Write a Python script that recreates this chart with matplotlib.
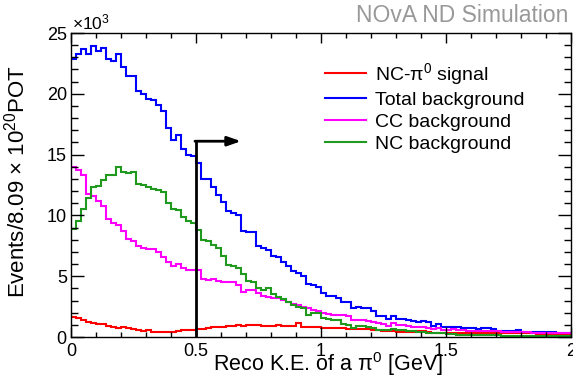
import matplotlib
matplotlib.use("Agg")
import matplotlib.pyplot as plt
import numpy as np

plt.rcParams['font.family'] = ['Liberation Sans', 'DejaVu Sans']
plt.rcParams['mathtext.fontset'] = 'custom'
plt.rcParams['mathtext.rm'] = 'Liberation Sans'
plt.rcParams['mathtext.it'] = 'Liberation Sans:italic'

# Histogram binning: 100 bins from 0 to 2 GeV
bin_edges = np.linspace(0.0, 2.0, 101)

# Values in units of 10^3 events
signal = [1.64, 1.56, 1.42, 1.26, 1.15, 1.04, 1.04, 0.93, 0.82, 0.71,
          0.79, 0.74, 0.66, 0.55, 0.52, 0.55, 0.44, 0.38, 0.44, 0.45,
          0.45, 0.50, 0.55, 0.55, 0.60, 0.62, 0.66, 0.75, 0.80, 0.85,
          0.85, 0.90, 0.90, 0.95, 0.90, 0.95, 1.00, 0.95, 0.90, 0.93,
          0.90, 0.95, 0.90, 0.90, 0.88, 1.12, 0.85, 0.80, 0.80, 0.80,
          0.78, 0.72, 0.72, 0.70, 0.70, 0.68, 0.65, 0.65, 0.63, 0.63,
          0.60, 0.55, 0.47, 0.50, 0.50, 0.44, 0.44, 0.44, 0.44, 0.47,
          0.52, 0.38, 0.35, 0.35, 0.33, 0.33, 0.33, 0.32, 0.32, 0.33,
          0.33, 0.33, 0.33, 0.33, 0.33, 0.33, 0.30, 0.30, 0.30, 0.30,
          0.30, 0.30, 0.30, 0.22, 0.22, 0.22, 0.22, 0.22, 0.22, 0.22]

total_bkg = [22.85, 23.3, 23.7, 23.3, 23.9, 23.5, 23.8, 22.9, 22.7, 23.3,
             22.2, 21.5, 21.5, 20.2, 20.0, 19.6, 19.5, 19.1, 18.6, 17.2,
             16.2, 16.6, 15.5, 15.0, 14.9, 14.3, 13.0, 13.0, 12.3, 11.7,
             11.1, 10.4, 10.2, 10.0, 8.7, 8.6, 8.6, 7.5, 7.3, 7.15,
             6.65, 6.55, 6.2, 5.85, 5.45, 5.25, 5.05, 4.35, 4.3, 4.15,
             3.6, 3.4, 3.35, 3.2, 2.9, 2.85, 2.35, 2.5, 2.4, 2.35,
             2.17, 1.73, 1.73, 1.45, 1.73, 1.48, 1.48, 1.4, 1.35, 1.26,
             1.3, 1.2, 0.9, 1.07, 0.8, 0.8, 0.85, 0.8, 0.73, 0.72,
             0.70, 0.68, 0.70, 0.70, 0.68, 0.52, 0.52, 0.52, 0.52, 0.58,
             0.38, 0.38, 0.45, 0.38, 0.38, 0.38, 0.40, 0.30, 0.30, 0.30]

cc_bkg = [14.0, 13.75, 13.3, 11.75, 11.6, 11.15, 10.8, 9.7, 9.4, 9.2,
          8.7, 8.05, 7.9, 7.5, 7.3, 7.2, 7.25, 6.95, 6.6, 6.2,
          5.8, 6.0, 5.65, 5.55, 5.55, 5.5, 4.8, 4.7, 4.75, 4.6,
          4.55, 4.55, 4.5, 4.3, 3.7, 3.9, 3.85, 3.6, 3.4, 3.25,
          3.2, 3.2, 3.05, 2.9, 2.7, 2.6, 2.5, 2.35, 2.2, 2.1,
          2.0, 1.9, 1.8, 1.8, 1.85, 1.7, 1.4, 1.4, 1.4, 1.35,
          1.26, 1.12, 1.07, 0.9, 1.12, 1.0, 0.97, 0.9, 0.85, 0.8,
          0.8, 0.75, 0.63, 0.7, 0.6, 0.6, 0.63, 0.6, 0.55, 0.5,
          0.5, 0.5, 0.5, 0.5, 0.5, 0.5, 0.38, 0.38, 0.38, 0.38,
          0.38, 0.38, 0.3, 0.3, 0.3, 0.3, 0.3, 0.3, 0.3, 0.3]

nc_bkg = [8.9, 9.5, 10.5, 11.4, 12.3, 12.4, 12.9, 13.3, 13.3, 14.0,
          13.6, 13.5, 13.6, 12.6, 12.5, 12.3, 12.2, 12.05, 11.9, 11.0,
          10.5, 10.45, 9.9, 9.5, 9.35, 8.8, 8.0, 7.9, 7.6, 7.3,
          6.7, 5.9, 5.8, 5.65, 5.2, 4.6, 4.55, 4.0, 3.9, 4.0,
          3.5, 3.3, 3.1, 2.85, 2.6, 2.5, 2.35, 1.8, 1.95, 1.95,
          1.6, 1.45, 1.4, 1.4, 1.07, 1.0, 0.72, 0.9, 0.9, 0.8,
          0.75, 0.6, 0.6, 0.55, 0.63, 0.55, 0.55, 0.47, 0.47, 0.42,
          0.42, 0.33, 0.33, 0.3, 0.3, 0.25, 0.25, 0.2, 0.2, 0.15,
          0.15, 0.15, 0.15, 0.15, 0.15, 0.15, 0.1, 0.1, 0.1, 0.1,
          0.1, 0.1, 0.1, 0.1, 0.1, 0.1, 0.1, 0.1, 0.1, 0.1]

series_labels = ["NC-π$^{0}$ signal", "Total background", "CC background", "NC background"]
series_colors = ["#ff0000", "#0000ff", "#ff00ff", "#1f9a1f"]

cut_value = 0.5
arrow_height = 16.1
arrow_end = 0.68

W, H = 573, 379
fig = plt.figure(figsize=(W / 100, H / 100), dpi=100)
ax = fig.add_axes([71 / W, 1 - 337 / H, 500 / W, 304 / H])

for vals, lab, col in zip([signal, total_bkg, cc_bkg, nc_bkg], series_labels, series_colors):
    ax.stairs(vals, bin_edges, baseline=None, color=col, lw=1.5, label=lab)

# selection cut line and arrow
ax.plot([cut_value, cut_value], [0, arrow_height], color='black', lw=2.0, solid_capstyle='butt')
ax.annotate("", xy=(arrow_end, arrow_height), xytext=(cut_value - 0.004, arrow_height),
            arrowprops=dict(arrowstyle='-|>,head_length=0.8,head_width=0.28', color='black', lw=2.0,
                            shrinkA=0, shrinkB=0))

ax.set_xlim(0, 2)
ax.set_ylim(0, 25)
ax.set_xticks([0, 0.5, 1, 1.5, 2])
ax.set_xticklabels(["0", "0.5", "1", "1.5", "2"])
ax.set_xticks(np.arange(0, 2.001, 0.1), minor=True)
ax.set_yticks([0, 5, 10, 15, 20, 25])
ax.set_yticklabels(["0", "5", "10", "15", "20", "25"])
ax.set_yticks(np.arange(0, 25.01, 1), minor=True)

ax.tick_params(axis='both', which='both', direction='in', top=True, right=True,
               labelsize=13, colors='black', width=1.0)
ax.tick_params(axis='y', which='major', length=9.5, pad=3)
ax.tick_params(axis='y', which='minor', length=5)
ax.tick_params(axis='x', which='major', length=7, pad=4)
ax.tick_params(axis='x', which='minor', length=3.5)
for sp in ax.spines.values():
    sp.set_linewidth(1.0)

ax.set_xlabel("Reco K.E. of a π$^{0}$ [GeV]", fontsize=15.5)
ax.xaxis.set_label_coords(0.514, -0.044)
ax.set_ylabel("Events/8.09 $\\times$ 10$^{20}$POT", fontsize=16)
ax.yaxis.set_label_coords(-0.082, 0.513)

leg = ax.legend(loc='upper left', bbox_to_anchor=(325 / W, 1 - 61 / H), bbox_transform=fig.transFigure,
                frameon=False, fontsize=14, handlelength=2.1, handletextpad=0.45,
                labelspacing=0.22, borderpad=0, borderaxespad=0)

fig.text(568 / W, 1 - 15 / H, "NOvA ND Simulation", ha='right', va='center',
         fontsize=16.5, color='#999999')
fig.text(72 / W, 1 - 22 / H, "$\\times$10$^{3}$", ha='left', va='center', fontsize=12.5)

fig.savefig("out.png", dpi=100)
